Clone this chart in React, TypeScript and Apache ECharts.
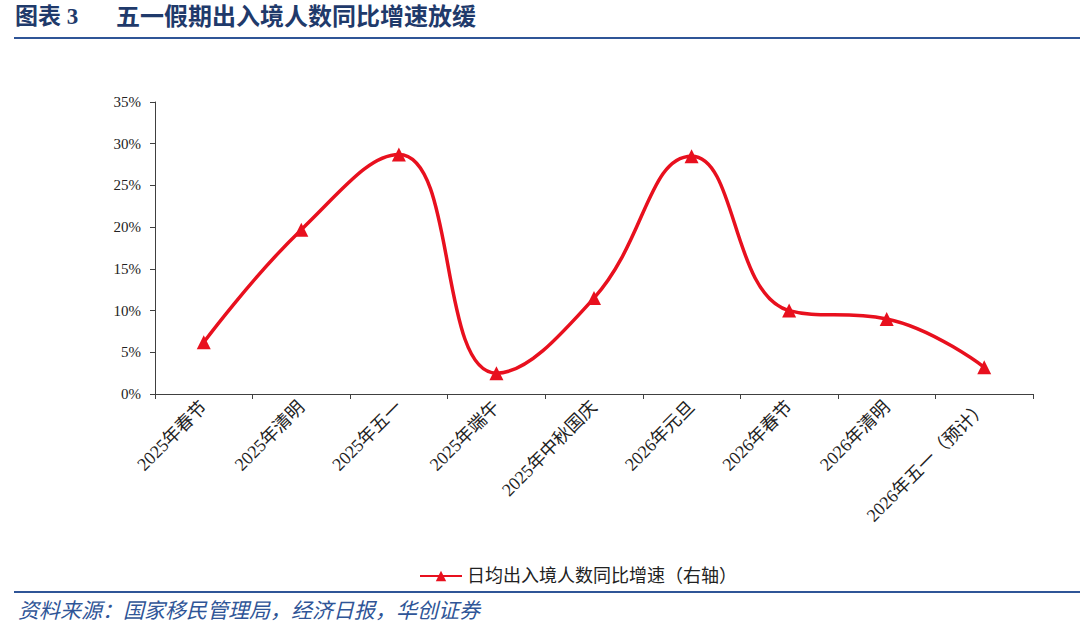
import React, { useEffect, useRef } from "react";
import * as echarts from "echarts";

const categories = [
  "2025年春节",
  "2025年清明",
  "2025年五一",
  "2025年端午",
  "2025年中秋国庆",
  "2026年元旦",
  "2026年春节",
  "2026年清明",
  "2026年五一（预计）",
];
const growthValues = [6.2, 19.7, 28.7, 2.5, 11.5, 28.5, 10.0, 9.0, 3.2];
const seriesName = "日均出入境人数同比增速（右轴）";
const titleLead = "图表 3";
const titleText = "五一假期出入境人数同比增速放缓";
const sourceText = "资料来源：国家移民管理局，经济日报，华创证券";

const serif = "'Liberation Serif', 'Times New Roman', 'Noto Sans CJK SC', serif";

export default function App() {
  const ref = useRef<HTMLDivElement>(null);
  useEffect(() => {
    if (!ref.current) return;
    const chart = echarts.init(ref.current, null, { renderer: "svg" });
    chart.setOption({
      animation: false,
      backgroundColor: "#ffffff",
      graphic: [
        {
          type: "text",
          left: 15,
          top: 5,
          style: {
            text: titleLead,
            font: "bold 23px " + serif,
            fill: "#1f3a6b",
          },
        },
        {
          type: "text",
          left: 116,
          top: 5,
          style: {
            text: titleText,
            font: "bold 24px " + serif,
            fill: "#1f3a6b",
          },
        },
        {
          type: "line",
          shape: { x1: 14, y1: 38, x2: 1080, y2: 38 },
          style: { stroke: "#2f5597", lineWidth: 2 },
        },
        {
          type: "line",
          shape: { x1: 14, y1: 592, x2: 1080, y2: 592 },
          style: { stroke: "#2f5597", lineWidth: 2 },
        },
        {
          type: "text",
          left: 18,
          top: 600,
          style: {
            text: sourceText,
            font: "italic 21px " + serif,
            fill: "#2f5597",
          },
        },
      ],
      legend: {
        data: [seriesName],
        left: 414,
        top: 562,
        itemWidth: 42,
        itemHeight: 13,
        itemGap: 5,
        textStyle: { fontSize: 18, color: "#222", fontFamily: serif },
      },
      grid: { left: 155, right: 47, top: 102, bottom: 238, containLabel: false },
      xAxis: {
        type: "category",
        data: categories,
        boundaryGap: true,
        axisLine: { lineStyle: { color: "#404040", width: 1 } },
        axisTick: { show: true, alignWithLabel: false, length: 5, lineStyle: { color: "#404040" } },
        axisLabel: {
          rotate: 45,
          interval: 0,
          fontSize: 18,
          color: "#222",
          fontFamily: serif,
          margin: 10,
        },
      },
      yAxis: {
        type: "value",
        min: 0,
        max: 35,
        interval: 5,
        splitLine: { show: false },
        axisLine: { show: true, lineStyle: { color: "#404040", width: 1 } },
        axisTick: { show: true, length: 5, lineStyle: { color: "#404040" } },
        axisLabel: {
          formatter: "{value}%",
          fontSize: 15,
          color: "#222",
          fontFamily: serif,
          margin: 14,
        },
      },
      series: [
        {
          name: seriesName,
          type: "line",
          data: growthValues,
          smooth: 0.45,
          symbol: "triangle",
          symbolSize: 14,
          lineStyle: { color: "#e8101e", width: 3.5 },
          itemStyle: { color: "#e8101e" },
        },
      ],
    });
    return () => chart.dispose();
  }, []);
  return <div ref={ref} style={{ width: 1080, height: 632, position: "absolute", left: 0, top: 0 }} />;
}
